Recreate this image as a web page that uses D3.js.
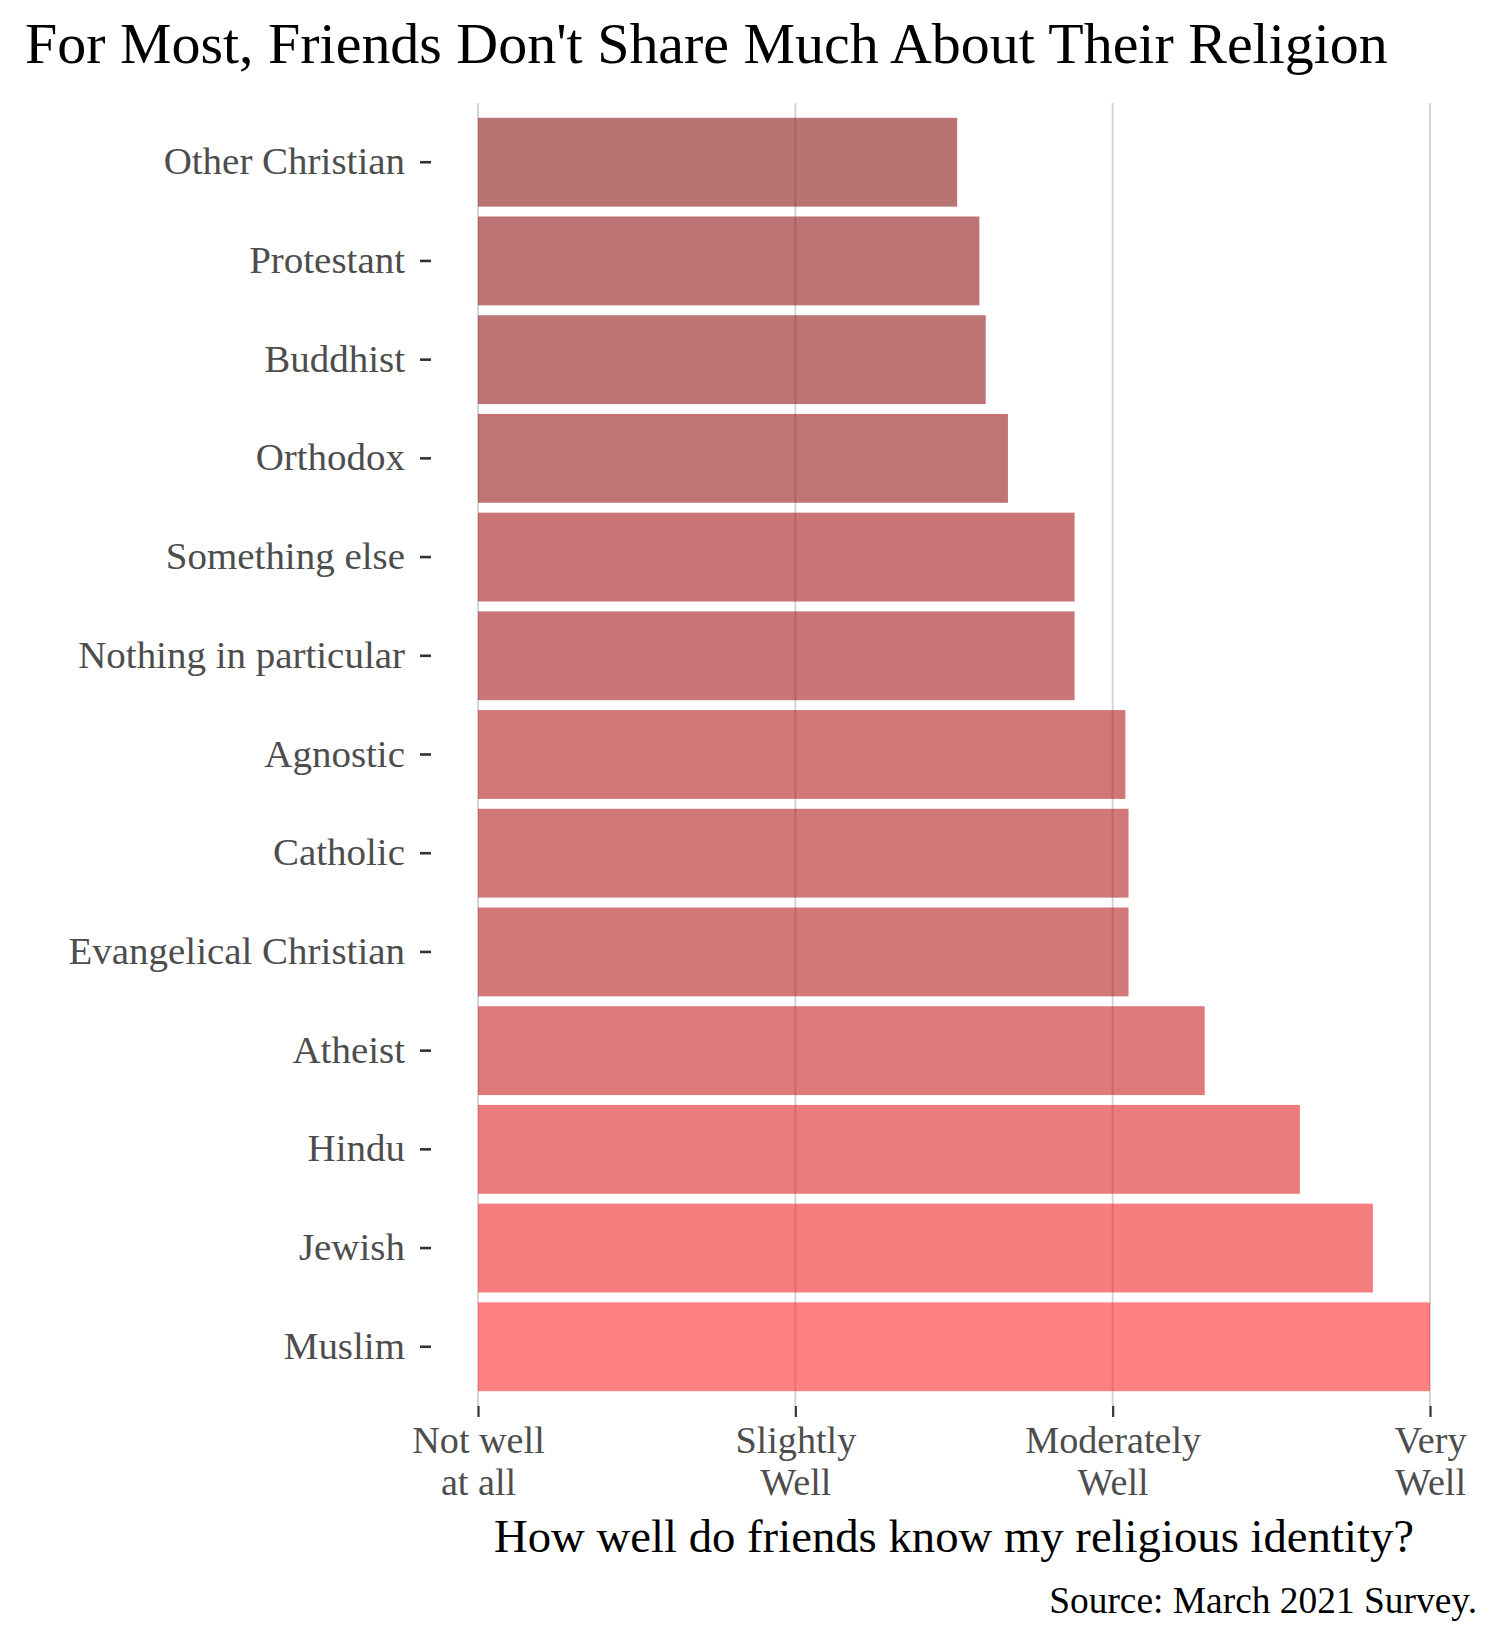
<!DOCTYPE html>
<html>
<head>
<meta charset="utf-8">
<script src="https://cdn.jsdelivr.net/npm/d3@7"></script>
<style>
  html, body { margin: 0; padding: 0; background: #ffffff; }
  svg { display: block; }
</style>
</head>
<body>
<svg id="chart" width="1500" height="1650"></svg>
<script>
// ---- data ----
const categories = ["Other Christian", "Protestant", "Buddhist", "Orthodox", "Something else",
  "Nothing in particular", "Agnostic", "Catholic", "Evangelical Christian", "Atheist",
  "Hindu", "Jewish", "Muslim"];
const values = [2.51, 2.58, 2.60, 2.67, 2.88, 2.88, 3.04, 3.05, 3.05, 3.29, 3.59, 3.82, 4.00];
const tickValues = [1, 2, 3, 4];
const tickLabels = [["Not well", "at all"], ["Slightly", "Well"], ["Moderately", "Well"], ["Very", "Well"]];
const titleText = "For Most, Friends Don't Share Much About Their Religion";
const xTitleText = "How well do friends know my religious identity?";
const captionText = "Source: March 2021 Survey.";

const FONT = "'Liberation Serif', 'DejaVu Serif', serif";
const svg = d3.select("#chart");
svg.append("rect").attr("width", 1500).attr("height", 1650).attr("fill", "#ffffff");

const panel = { left: 478, right: 1430, top: 103, bottom: 1406 };

const x = d3.scaleLinear().domain([1, 4]).range([panel.left, panel.right]);
const y = d3.scaleBand().domain(categories).range([panel.top, panel.bottom])
  .paddingInner(0.1).paddingOuter(0.15);
const color = d3.scaleLinear().domain([d3.min(values), d3.max(values)])
  .range(["#891616", "#ff2b2b"]).interpolate(d3.interpolateRgb);

function fitWidth(sel, target) {
  const w = sel.node().getComputedTextLength();
  const fs = parseFloat(sel.attr("font-size"));
  sel.attr("font-size", fs * target / w);
  return fs * target / w;
}

// gridlines
svg.append("g").selectAll("line").data(tickValues).join("line")
  .attr("x1", d => x(d)).attr("x2", d => x(d))
  .attr("y1", panel.top).attr("y2", panel.bottom)
  .attr("stroke", "#d4d4d4").attr("stroke-width", 2);

// bars
const data = categories.map((c, i) => ({ c, v: values[i] }));
svg.append("g").selectAll("rect").data(data).join("rect")
  .attr("x", x(1))
  .attr("y", d => y(d.c))
  .attr("width", d => x(d.v) - x(1))
  .attr("height", y.bandwidth())
  .attr("fill", d => color(d.v))
  .attr("fill-opacity", 0.6);

// x axis
const xAxis = svg.append("g").attr("transform", `translate(0,${panel.bottom})`)
  .call(d3.axisBottom(x).tickValues(tickValues).tickSize(11).tickFormat(""));
xAxis.select(".domain").remove();
xAxis.selectAll(".tick line").attr("stroke", "#333333").attr("stroke-width", 2.2);
xAxis.selectAll(".tick text").remove();
const xLab = xAxis.selectAll(".tick").append("text")
  .attr("text-anchor", "middle").attr("fill", "#4d4d4d")
  .attr("font-family", FONT).attr("font-size", 38);
xLab.each(function(d) {
  const t = d3.select(this);
  const lines = tickLabels[tickValues.indexOf(d)];
  t.append("tspan").attr("x", 0).attr("y", 47).text(lines[0]);
  t.append("tspan").attr("x", 0).attr("y", 89).text(lines[1]);
});
// fit x tick label font size to "Moderately" width
{
  const probe = svg.append("text").attr("font-family", FONT).attr("font-size", 38).text("Moderately");
  const fs = fitWidth(probe, 176);
  probe.remove();
  xLab.attr("font-size", fs);
}

// y axis
const yAxis = svg.append("g").attr("transform", `translate(431,0)`)
  .call(d3.axisLeft(y).tickSize(11).tickPadding(15));
yAxis.select(".domain").remove();
yAxis.selectAll(".tick line").attr("stroke", "#333333").attr("stroke-width", 2.6);
const yLab = yAxis.selectAll(".tick text")
  .attr("fill", "#4d4d4d").attr("font-family", FONT).attr("font-size", 38).attr("dy", null);
{
  const probe = svg.append("text").attr("font-family", FONT).attr("font-size", 38).text("Nothing in particular");
  const fs = fitWidth(probe, 327);
  probe.remove();
  yLab.attr("font-size", fs).attr("dy", (fs * 0.31) + "px");
}

// title
const title = svg.append("text").attr("x", 25).attr("y", 63)
  .attr("font-family", FONT).attr("font-size", 58).attr("fill", "#000000").text(titleText);
fitWidth(title, 1363);

// x axis title
const xTitle = svg.append("text").attr("x", (panel.left + panel.right) / 2).attr("y", 1552)
  .attr("text-anchor", "middle")
  .attr("font-family", FONT).attr("font-size", 44).attr("fill", "#000000").text(xTitleText);
fitWidth(xTitle, 920);

// caption
const cap = svg.append("text").attr("x", 1477).attr("y", 1613)
  .attr("text-anchor", "end")
  .attr("font-family", FONT).attr("font-size", 34).attr("fill", "#000000").text(captionText);
fitWidth(cap, 428);
</script>
</body>
</html>
